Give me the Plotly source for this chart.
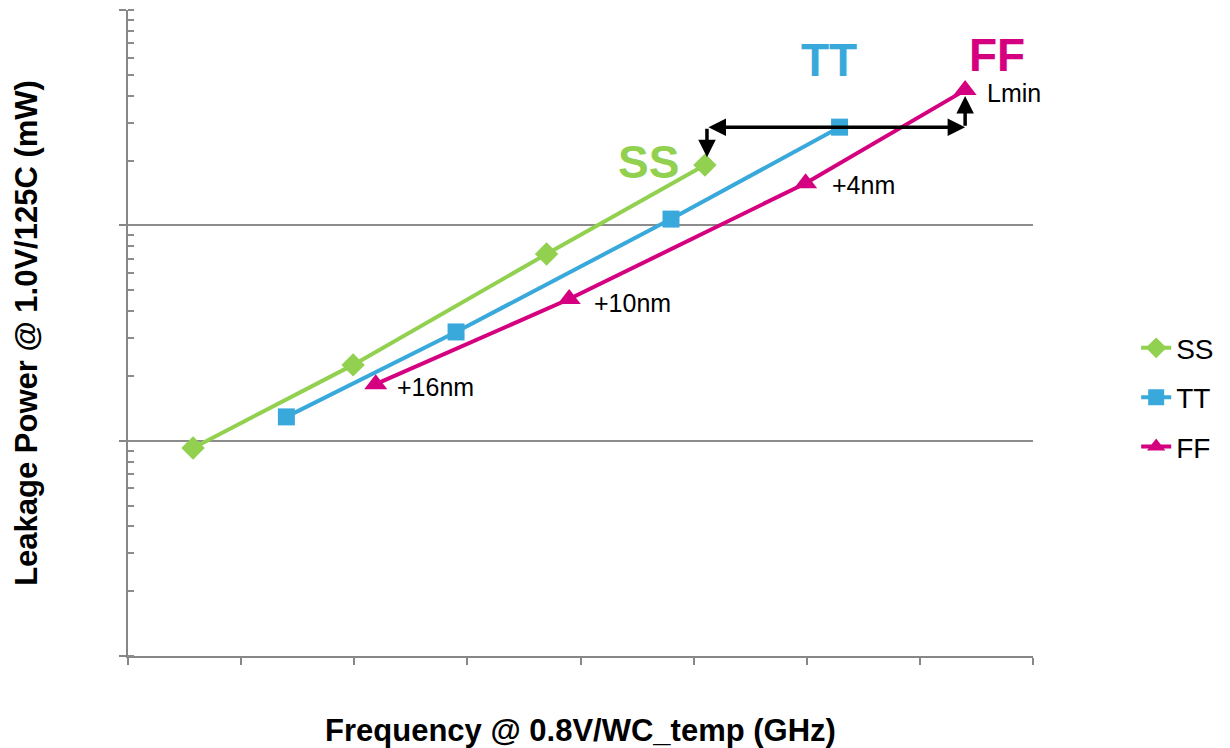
import plotly.graph_objects as go
import math

# Data (x in axis units 0..8, y leakage in mW on log scale)
ss_x = [0.575, 1.99, 3.70, 5.10]
ss_y = [9.25, 22.5, 73.6, 190.6]
tt_x = [1.40, 2.90, 4.80, 6.29]
tt_y = [12.9, 32.0, 107.0, 286.0]
ff_x = [2.19, 3.90, 5.99, 7.40]
ff_y = [18.3, 45.5, 157.0, 425.0]

series_names = ["SS", "TT", "FF"]
colors = {"SS": "#92D050", "TT": "#39A9DC", "FF": "#D5007F"}
symbols = {"SS": "diamond", "TT": "square", "FF": "triangle-up"}
sizes = {"SS": 18, "TT": 17, "FF": 20}

FONT = "Arial, Liberation Sans, sans-serif"

fig = go.Figure()
for name, xs, ys in [("SS", ss_x, ss_y), ("TT", tt_x, tt_y), ("FF", ff_x, ff_y)]:
    fig.add_trace(go.Scatter(
        x=xs, y=ys, name=name, mode="lines+markers",
        legendgroup=name,
        line=dict(color=colors[name], width=4),
        marker=dict(symbol=symbols[name], size=sizes[name], color=colors[name]),
    ))

L = math.log10
annotations = []
# Corner labels
for txt, x, y, col in [("SS", 4.60, 2.294, colors["SS"]),
                       ("TT", 6.20, 2.768, colors["TT"]),
                       ("FF", 7.68, 2.791, colors["FF"])]:
    annotations.append(dict(x=x, y=y, xref="x", yref="y", text=f"<b>{txt}</b>",
                            showarrow=False, font=dict(family=FONT, size=46, color=col)))
# Small labels
for txt, x, y in [("Lmin", 7.576, 2.615), ("+4nm", 6.206, 2.187),
                  ("+10nm", 4.102, 1.639), ("+16nm", 2.360, 1.249)]:
    annotations.append(dict(x=x, y=y, xref="x", yref="y", text=txt, xanchor="left",
                            showarrow=False, font=dict(family=FONT, size=25, color="black")))

# Arrows
x_left = 5.118
x_right = ff_x[-1]
y_h = L(tt_y[-1])
arrow_common = dict(xref="x", yref="y", axref="x", ayref="y", text="", showarrow=True,
                    arrowcolor="black", arrowwidth=3.5, arrowhead=2, arrowsize=1, standoff=0,
                    startstandoff=0)
annotations.append(dict(x=x_right, y=y_h, ax=x_left, ay=y_h, arrowside="end+start", **arrow_common))
annotations.append(dict(x=x_left, y=2.317, ax=x_left, ay=y_h, **arrow_common))
annotations.append(dict(x=x_right, y=2.601, ax=x_right, ay=y_h, **arrow_common))

fig.update_layout(
    width=1230, height=748,
    paper_bgcolor="white", plot_bgcolor="white",
    margin=dict(l=128, r=197, t=10, b=92, autoexpand=False),
    font=dict(family=FONT, color="black"),
    annotations=annotations,
    legend=dict(x=1.114, y=0.40, xanchor="left", yanchor="middle",
                font=dict(family=FONT, size=28, color="black"),
                traceorder="grouped", tracegroupgap=10, bgcolor="rgba(0,0,0,0)"),
    showlegend=True,
)
fig.update_xaxes(
    range=[0, 8], dtick=1, tick0=0, showgrid=False, zeroline=False,
    showline=True, linecolor="#878787", linewidth=2,
    ticks="outside", ticklen=7, tickwidth=2, tickcolor="#878787",
    showticklabels=False,
    title=dict(text="<b>Frequency @ 0.8V/WC_temp (GHz)</b>", font=dict(family=FONT, size=31), standoff=57),
)
fig.update_yaxes(
    type="log", range=[0, 3.0005], dtick=1, showgrid=True, gridcolor="#8C8C8C", gridwidth=1.5,
    zeroline=False, showline=True, linecolor="#878787", linewidth=2,
    ticks="outside", ticklen=7, tickwidth=2, tickcolor="#878787",
    showticklabels=False,
    minor=dict(ticks="inside", ticklen=6, tickwidth=2, tickcolor="#8C8C8C", dtick="D1", showgrid=False),
    title=dict(text="<b>Leakage Power @ 1.0V/125C (mW)</b>", font=dict(family=FONT, size=31), standoff=72),
)

fig.write_html("out.html")
